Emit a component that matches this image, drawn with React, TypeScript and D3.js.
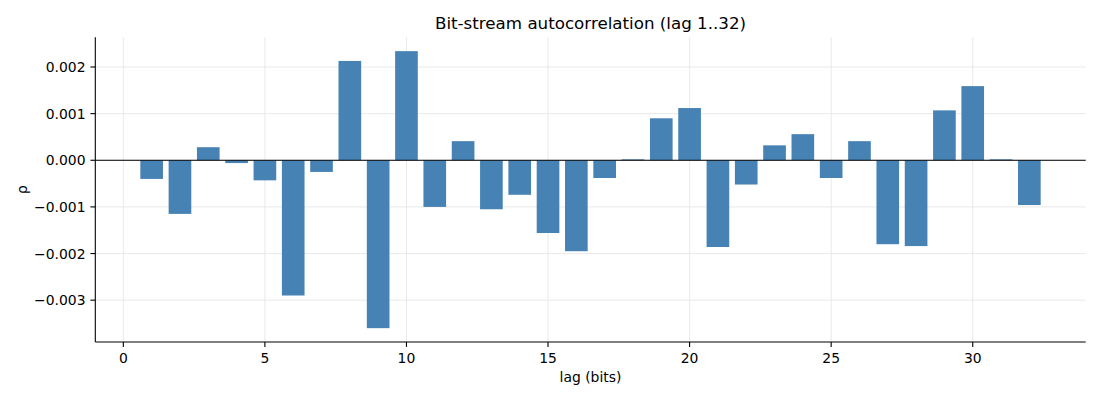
import * as d3 from "d3";

const lags = d3.range(1, 33);
const rho = [
  -0.0004, -0.00115, 0.00028, -0.00006, -0.00043, -0.0029, -0.00025, 0.00213,
  -0.0036, 0.00234, -0.001, 0.00041, -0.00105, -0.00074, -0.00156, -0.00195,
  -0.00038, 0.00002, 0.0009, 0.00112, -0.00186, -0.00052, 0.00032, 0.00056,
  -0.00038, 0.00041, -0.0018, -0.00184, 0.00107, 0.00159, 0.00002, -0.00096,
];
const xTicks = [0, 5, 10, 15, 20, 25, 30];
const yTicks = [-0.003, -0.002, -0.001, 0, 0.001, 0.002];

const W = 1100;
const H = 400;
const left = 95.3;
const right = 1085.7;
const top = 37.3;
const bottom = 342;
const font = "DejaVu Sans, sans-serif";

const fmt = (v: number) => d3.format(".3f")(v).replace("-", "\u2212");

export default function App() {
  const x = d3.scaleLinear().domain([-0.99, 33.99]).range([left, right]);
  const y = d3.scaleLinear().domain([-0.003897, 0.002637]).range([bottom, top]);
  const bw = x(0.8) - x(0);

  return (
    <svg width={W} height={H} style={{ position: "absolute", left: 0, top: 0 }}>
      <rect width={W} height={H} fill="#fff" />
      {xTicks.map((t) => (
        <line key={"gx" + t} x1={x(t)} x2={x(t)} y1={top} y2={bottom} stroke="#e3e3e3" strokeWidth={0.8} />
      ))}
      {yTicks.map((t) => (
        <line key={"gy" + t} x1={left} x2={right} y1={y(t)} y2={y(t)} stroke="#e3e3e3" strokeWidth={0.8} />
      ))}
      {lags.map((l, i) => (
        <rect
          key={l}
          x={x(l - 0.4)}
          width={bw}
          y={y(Math.max(0, rho[i]))}
          height={Math.abs(y(rho[i]) - y(0))}
          fill="#4682b4"
        />
      ))}
      <line x1={left} x2={right} y1={y(0)} y2={y(0)} stroke="#000" strokeWidth={1} />
      <line x1={left} x2={left} y1={top} y2={bottom} stroke="#000" strokeWidth={1.1} />
      <line x1={left} x2={right} y1={bottom} y2={bottom} stroke="#000" strokeWidth={1.1} />
      {xTicks.map((t) => (
        <g key={"tx" + t}>
          <line x1={x(t)} x2={x(t)} y1={bottom} y2={bottom + 4.9} stroke="#000" strokeWidth={1.1} />
          <text x={x(t)} y={bottom + 20.5} fontSize={13.9} fontFamily={font} textAnchor="middle" fill="#000">
            {t}
          </text>
        </g>
      ))}
      {yTicks.map((t) => (
        <g key={"ty" + t}>
          <line x1={left - 4.9} x2={left} y1={y(t)} y2={y(t)} stroke="#000" strokeWidth={1.1} />
          <text x={left - 9.8} y={y(t) + 5} fontSize={13.9} fontFamily={font} textAnchor="end" fill="#000">
            {fmt(t)}
          </text>
        </g>
      ))}
      <text x={(left + right) / 2} y={29} fontSize={16.7} fontFamily={font} textAnchor="middle" fill="#000">
        Bit-stream autocorrelation (lag 1..32)
      </text>
      <text x={(left + right) / 2} y={382} fontSize={13.9} fontFamily={font} textAnchor="middle" fill="#000">
        lag (bits)
      </text>
      <text
        transform={`translate(27,${(top + bottom) / 2}) rotate(-90)`}
        fontSize={13.9}
        fontFamily={font}
        textAnchor="middle"
        fill="#000"
      >
        ρ
      </text>
    </svg>
  );
}
